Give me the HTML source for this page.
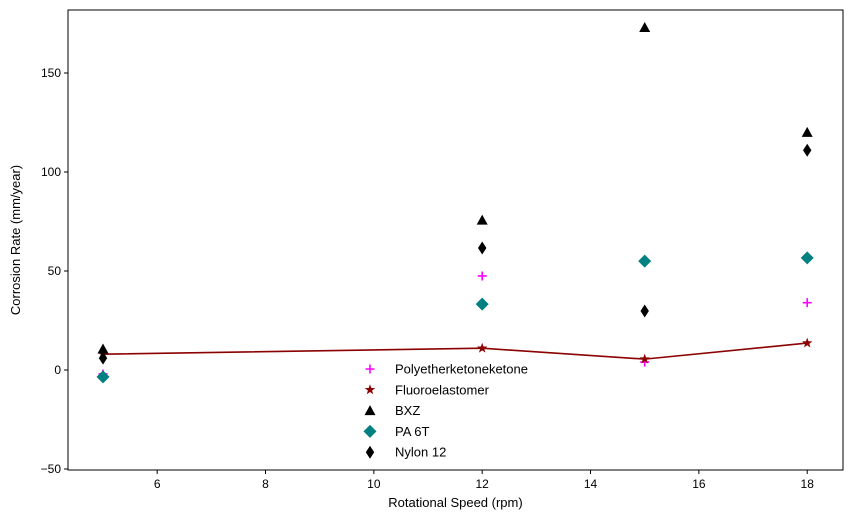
<!DOCTYPE html>
<html><head><meta charset="utf-8"><style>
body{margin:0;background:#fff;}
svg{display:block;font-family:"Liberation Sans","DejaVu Sans",sans-serif;}
</style></head><body>
<svg id="chart" width="853" height="525"></svg>
<script>
const xs = [5, 12, 15, 18];
const pekk = [-2, 47.5, 4, 34];
const fluoro = [8, 11, 5.5, 13.6];
const bxz = [10.6, 75.7, 173, 120];
const pa6t = [-3.5, 33.3, 55, 56.6];
const nylon = [6, 61.6, 29.8, 111];
const xTicks = [6, 8, 10, 12, 14, 16, 18];
const yTicks = [-50, 0, 50, 100, 150];
const seriesNames = ["Polyetherketoneketone", "Fluoroelastomer", "BXZ", "PA 6T", "Nylon 12"];

const NS = "http://www.w3.org/2000/svg";
const svg = document.getElementById("chart");
const L = 68, R = 843, T = 10, B = 470;
function sx(v){ return 103 + (v - 5) * 54.17; }
function sy(v){ return 370 - v * 1.98; }
function el(tag, attrs, parent){
  const e = document.createElementNS(NS, tag);
  for (const k in attrs) e.setAttribute(k, attrs[k]);
  (parent || svg).appendChild(e);
  return e;
}
function marker(type, x, y, g){
  let e;
  if (type === "plus") {
    e = el("path", {d:`M${x-4.5},${y}H${x+4.5}M${x},${y-4.5}V${y+4.5}`, stroke:"#ff00ff", "stroke-width":1.6, fill:"none"}, g);
  } else if (type === "star") {
    let p = "";
    for (let i = 0; i < 10; i++) {
      const r = i % 2 ? 2.2 : 5.5, a = -Math.PI/2 + i*Math.PI/5;
      p += (i ? "L" : "M") + (x + r*Math.cos(a)).toFixed(2) + "," + (y + r*Math.sin(a)).toFixed(2);
    }
    e = el("path", {d:p + "Z", fill:"#8b0000"}, g);
  } else if (type === "tri") {
    e = el("path", {d:`M${x},${y-5.5}L${x+5.5},${y+4.5}L${x-5.5},${y+4.5}Z`, fill:"#000"}, g);
  } else if (type === "diamond") {
    e = el("path", {d:`M${x},${y-6.5}L${x+6.5},${y}L${x},${y+6.5}L${x-6.5},${y}Z`, fill:"#008080"}, g);
  } else {
    e = el("path", {d:`M${x},${y-6.5}L${x+4.2},${y}L${x},${y+6.5}L${x-4.2},${y}Z`, fill:"#000"}, g);
  }
  return e;
}

const frame = el("rect", {x:L, y:T, width:R-L, height:B-T, fill:"none", stroke:"#000", "stroke-width":1});



xTicks.forEach(t => {
  const x = sx(t);
  el("line", {x1:x, x2:x, y1:B, y2:B+4, stroke:"#000"});
  const tx = el("text", {x:x, y:B+18, "text-anchor":"middle", "font-size":12});
  tx.textContent = t;
  
  
});
yTicks.forEach(t => {
  const y = sy(t);
  el("line", {x1:L-4, x2:L, y1:y, y2:y, stroke:"#000"});
  const tx = el("text", {x:L-7, y:y+4, "text-anchor":"end", "font-size":12});
  tx.textContent = t === -50 ? "\u221250" : t;
  
  
});
const xt = el("text", {x:(L+R)/2, y:507, "text-anchor":"middle", "font-size":13});
xt.textContent = "Rotational Speed (rpm)";


const yt = el("text", {x:0, y:0, "text-anchor":"middle", "font-size":13, transform:`translate(20,${(T+B)/2}) rotate(-90)`});
yt.textContent = "Corrosion Rate (mm/year)";



const line = el("polyline", {points: xs.map((v,i)=>sx(v)+","+sy(fluoro[i])).join(" "), fill:"none", stroke:"#8b0000", "stroke-width":1.6});



const series = [[pekk,"plus"],[fluoro,"star"],[bxz,"tri"],[pa6t,"diamond"],[nylon,"thin"]];
series.forEach((s, k) => {
  const g = el("g", {});
  
  
  s[0].forEach((v, i) => {
    const m = marker(s[1], sx(xs[i]), sy(v), g);
    
    
  });
});

const lg = el("g", {});


seriesNames.forEach((n, i) => {
  const y = 369 + i * 20.8;
  const e = el("g", {}, lg);
  
  
  marker(series[i][1], 370, y, e);
  const t = el("text", {x:395, y:y+4.5, "font-size":13}, e);
  t.textContent = n;
});
</script>
</body></html>
